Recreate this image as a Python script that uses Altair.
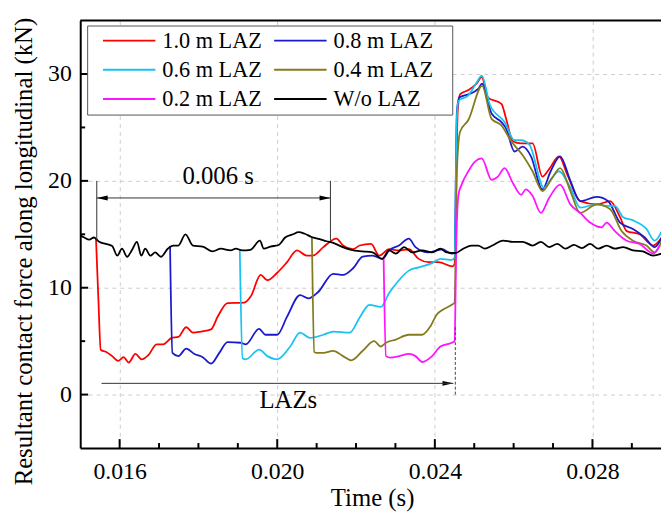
import altair as alt
import pandas as pd

series_names = ["1.0 m LAZ", "0.8 m LAZ", "0.6 m LAZ", "0.4 m LAZ", "0.2 m LAZ", "W/o LAZ"]
series_colors = ["#ff0000", "#1a1acc", "#19c3ef", "#847c1c", "#ff14ff", "#000000"]

t_red = [0.01540, 0.01546, 0.01552, 0.01565, 0.01581, 0.01596, 0.01610, 0.01623, 0.01640, 0.01656,
         0.01673, 0.01694, 0.01710, 0.01732, 0.01749, 0.01769, 0.01786, 0.01807, 0.01832, 0.01849,
         0.01874, 0.01916, 0.01933, 0.01958, 0.01975, 0.02000, 0.02025, 0.02050, 0.02075, 0.02090,
         0.02117, 0.02150, 0.02167, 0.02192, 0.02209, 0.02238, 0.02259, 0.02284, 0.02309, 0.02334,
         0.02359, 0.02384, 0.02409, 0.02445, 0.02450, 0.02458, 0.02464, 0.02485, 0.02506, 0.02519,
         0.02535, 0.02569, 0.02581, 0.02598, 0.02619, 0.02648, 0.02673, 0.02690, 0.02715, 0.02736,
         0.02769, 0.02811, 0.02845, 0.02870, 0.02887, 0.02920, 0.02954, 0.02976]
v_red = [14.6, 9.0, 4.2, 4.0, 3.6, 3.15, 3.5, 3.0, 3.8, 3.3,
         3.7, 4.7, 4.7, 5.3, 5.4, 6.3, 5.8, 5.9, 6.1, 7.3,
         8.55, 8.6, 9.2, 11.2, 10.7, 11.4, 12.4, 13.5, 13.0, 13.0,
         13.8, 14.6, 13.95, 13.6, 13.95, 14.1, 13.0, 13.6, 13.5, 13.6,
         12.7, 12.4, 12.4, 12.0, 12.2, 26.5, 28.1, 28.5, 29.1, 29.7,
         27.8, 27.2, 25.8, 23.7, 23.5, 23.5, 20.4, 21.1, 22.3, 20.6,
         18.1, 17.8, 18.1, 16.6, 15.3, 15.0, 13.95, 14.7]

t_blue = [0.01728, 0.01734, 0.01749, 0.01769, 0.01790, 0.01811, 0.01832, 0.01853, 0.01874, 0.01907,
          0.01920, 0.01954, 0.01970, 0.02000, 0.02025, 0.02058, 0.02079, 0.02104, 0.02142, 0.02167,
          0.02192, 0.02217, 0.02242, 0.02267, 0.02284, 0.02309, 0.02334, 0.02351, 0.02384, 0.02418,
          0.02443, 0.02450, 0.02456, 0.02462, 0.02485, 0.02510, 0.02520, 0.02544, 0.02569, 0.02581,
          0.02602, 0.02623, 0.02644, 0.02673, 0.02694, 0.02718, 0.02744, 0.02769, 0.02811, 0.02840,
          0.02870, 0.02903, 0.02933, 0.02958, 0.02976]
v_blue = [13.9, 3.9, 3.6, 4.3, 3.8, 3.5, 2.9, 3.9, 4.9, 4.85,
          4.7, 6.15, 5.6, 5.6, 7.3, 9.3, 9.0, 9.6, 11.3, 11.2,
          11.8, 12.9, 13.0, 12.7, 13.5, 13.95, 14.6, 13.8, 13.3, 13.6,
          13.2, 13.3, 26.5, 27.8, 28.1, 28.6, 29.1, 26.3, 25.5, 24.9,
          22.75, 23.2, 22.3, 19.2, 20.9, 22.3, 20.0, 18.1, 18.5, 18.1,
          16.1, 15.5, 14.7, 13.8, 14.7]

t_cyan = [0.01905, 0.01912, 0.01920, 0.01954, 0.01975, 0.02000, 0.02033, 0.02058, 0.02083, 0.02117,
          0.02142, 0.02184, 0.02209, 0.02234, 0.02263, 0.02284, 0.02309, 0.02334, 0.02359, 0.02393,
          0.02414, 0.02443, 0.02450, 0.02456, 0.02460, 0.02485, 0.02506, 0.02519, 0.02540, 0.02577,
          0.02602, 0.02619, 0.02640, 0.02677, 0.02694, 0.02715, 0.02744, 0.02769, 0.02811, 0.02836,
          0.02857, 0.02878, 0.02903, 0.02937, 0.02958, 0.02976]
v_cyan = [13.6, 3.4, 3.3, 4.2, 3.6, 3.3, 4.5, 5.8, 5.3, 5.6,
          5.9, 5.8, 7.2, 8.4, 8.2, 9.5, 10.7, 11.6, 11.9, 12.3,
          12.7, 12.6, 12.8, 26.0, 27.5, 28.0, 29.2, 29.85, 27.1, 25.5,
          23.8, 23.8, 23.4, 19.35, 20.1, 20.9, 19.35, 17.5, 17.8, 17.65,
          17.65, 16.6, 16.3, 15.5, 14.4, 15.3]

t_olive = [0.02088, 0.02094, 0.02100, 0.02117, 0.02142, 0.02167, 0.02188, 0.02217, 0.02246, 0.02263,
           0.02276, 0.02301, 0.02334, 0.02368, 0.02389, 0.02405, 0.02418, 0.02443, 0.02450, 0.02456,
           0.02464, 0.02485, 0.02520, 0.02544, 0.02569, 0.02594, 0.02623, 0.02648, 0.02673, 0.02698,
           0.02718, 0.02744, 0.02769, 0.02811, 0.02845, 0.02874, 0.02903, 0.02937, 0.02958, 0.02976]
v_olive = [14.75, 4.0, 3.9, 3.9, 4.1, 3.6, 3.2, 4.1, 5.0, 4.5,
           4.85, 5.15, 5.6, 5.6, 6.4, 7.5, 7.9, 8.4, 8.6, 21.0,
           24.6, 25.7, 28.9, 25.8, 25.2, 23.7, 22.4, 20.9, 19.05, 20.3,
           21.2, 19.05, 17.0, 17.8, 17.35, 15.3, 14.4, 13.95, 13.3, 14.4]

t_mag = [0.02270, 0.02276, 0.02287, 0.02310, 0.02334, 0.02351, 0.02368, 0.02393, 0.02414, 0.02443,
         0.02450, 0.02455, 0.02460, 0.02468, 0.02485, 0.02502, 0.02519, 0.02544, 0.02560, 0.02577,
         0.02598, 0.02619, 0.02631, 0.02648, 0.02669, 0.02690, 0.02718, 0.02744, 0.02769, 0.02794,
         0.02823, 0.02836, 0.02857, 0.02887, 0.02920, 0.02954, 0.02971]
v_mag = [12.8, 3.6, 3.45, 3.6, 3.8, 3.6, 3.05, 3.6, 4.5, 4.85,
         5.0, 15.0, 18.7, 19.65, 20.9, 21.8, 22.1, 20.1, 20.4, 21.2,
         19.8, 18.7, 19.2, 18.6, 17.0, 18.4, 19.65, 17.8, 17.0, 16.1,
         15.65, 16.1, 15.3, 14.4, 14.1, 13.2, 13.95]

t_black = [0.01500, 0.01510, 0.01523, 0.01535, 0.01548, 0.01565, 0.01581, 0.01594, 0.01606, 0.01619,
           0.01631, 0.01644, 0.01655, 0.01665, 0.01678, 0.01690, 0.01705, 0.01722, 0.01736, 0.01749,
           0.01767, 0.01786, 0.01811, 0.01836, 0.01857, 0.01882, 0.01895, 0.01911, 0.01932, 0.01956,
           0.01966, 0.01983, 0.02004, 0.02020, 0.02040, 0.02054, 0.02070, 0.02087, 0.02108, 0.02125,
           0.02142, 0.02163, 0.02188, 0.02217, 0.02242, 0.02266, 0.02284, 0.02301, 0.02322, 0.02343,
           0.02368, 0.02393, 0.02414, 0.02430, 0.02452, 0.02472, 0.02493, 0.02510, 0.02527, 0.02546,
           0.02573, 0.02598, 0.02623, 0.02648, 0.02669, 0.02690, 0.02711, 0.02732, 0.02753, 0.02773,
           0.02794, 0.02815, 0.02836, 0.02857, 0.02878, 0.02903, 0.02928, 0.02954, 0.02976]
v_black = [14.9, 14.7, 14.5, 14.7, 14.3, 14.1, 13.9, 13.0, 13.65, 12.9,
           13.5, 14.3, 13.0, 13.65, 13.0, 13.3, 12.9, 13.65, 13.95, 13.95,
           15.0, 13.95, 13.85, 13.4, 13.65, 13.5, 13.65, 13.5, 13.55, 14.4,
           13.65, 13.85, 14.0, 14.7, 15.0, 15.2, 15.05, 14.75, 14.55, 14.35,
           14.2, 13.85, 13.55, 13.4, 13.3, 12.7, 13.5, 13.2, 13.8, 13.3,
           13.5, 13.3, 13.65, 13.3, 13.25, 13.65, 13.95, 13.95, 13.65, 13.95,
           14.4, 14.3, 14.3, 13.95, 14.3, 13.8, 14.1, 13.65, 14.0, 13.7,
           14.1, 13.65, 13.95, 13.65, 13.8, 13.5, 13.4, 13.0, 13.2]

x_major = [0.016, 0.020, 0.024, 0.028]
x_minor = [0.017, 0.018, 0.019, 0.021, 0.022, 0.023, 0.025, 0.026, 0.027, 0.029]
y_major = [0, 10, 20, 30]
y_minor = [5, 15, 25]

# annotations
dim_x = [0.01542, 0.02135]
dim_y0, dim_y1, dim_arrow_y = 14.4, 20.0, 18.4
dim_label = "0.006 s"
dim_label_pos = (0.01850, 19.7)
laz_x0, laz_x1, laz_y = 0.01554, 0.02447, 1.05
laz_mark_x, laz_mark_y0, laz_mark_y1 = 0.02452, 0.0, 6.5
laz_label = "LAZs"
laz_label_pos = (0.02028, -1.25)

W, H = 587, 432
FONT = "Liberation Serif"
xdom = [0.015, 0.02974]
ydom = [-5, 35]

rows = []
for name, ts, vs in [(series_names[0], t_red, v_red), (series_names[1], t_blue, v_blue),
                     (series_names[2], t_cyan, v_cyan), (series_names[3], t_olive, v_olive),
                     (series_names[4], t_mag, v_mag), (series_names[5], t_black, v_black)]:
    for i, (t, v) in enumerate(zip(ts, vs)):
        rows.append({"t": t, "v": v, "s": name, "i": i})
df = pd.DataFrame(rows)

xs = alt.Scale(domain=xdom, nice=False, zero=False)
ys = alt.Scale(domain=ydom, nice=False, zero=False)

x_axis = alt.Axis(
    values=x_major, format=".3f", title="Time (s)", ticks=False,
    labelFont=FONT, labelFontSize=24, labelColor="black", labelPadding=12,
    titleFont=FONT, titleFontSize=25, titleFontWeight="normal", titleColor="black",
    titleX=295, titleY=58, titleBaseline="alphabetic",
    domainColor="black", domainWidth=2,
    grid=True, gridDash=[4, 4], gridColor="#cccccc", gridWidth=1)
y_axis = alt.Axis(
    values=y_major, title="Resultant contact force along longitudinal (kN)", ticks=False,
    labelFont=FONT, labelFontSize=24, labelColor="black", labelPadding=9,
    titleFont=FONT, titleFontSize=25, titleFontWeight="normal", titleColor="black",
    titleX=-57, titleY=233, titleBaseline="middle", titleAlign="center",
    domainColor="black", domainWidth=2,
    grid=True, gridDash=[4, 4], gridColor="#cccccc", gridWidth=1)


def X(f):
    return alt.X(f, scale=xs, axis=x_axis)


def Y(f):
    return alt.Y(f, scale=ys, axis=y_axis)


lines = alt.Chart(df).mark_line(clip=True, strokeWidth=1.8, interpolate="monotone").encode(
    x=X("t:Q"),
    y=Y("v:Q"),
    color=alt.Color("s:N", scale=alt.Scale(domain=series_names, range=series_colors),
                    sort=series_names,
                    legend=alt.Legend(orient="none", legendX=7, legendY=5, columns=2, direction="horizontal",
                                      title=None, clipHeight=22,
                                      symbolType="stroke", symbolSize=2809, symbolStrokeWidth=2,
                                      symbolOffset=11, labelOffset=6,
                                      labelExpr="datum.label + (datum.index % 2 == 1 ? '\u2004\u2004\u200b' : '')",
                                      labelFont=FONT, labelFontSize=22.5, labelColor="black",
                                      labelLimit=300,
                                      strokeColor="#555555", fillColor="white", padding=4,
                                      rowPadding=6.6, columnPadding=0)),
    detail="s:N",
    order="i:Q",
)

xt_major = alt.Chart(pd.DataFrame({"x": x_major})).mark_rule(color="black", strokeWidth=2).encode(
    x=X("x:Q"), y=alt.value(H), y2=alt.value(H - 9))
xt_minor = alt.Chart(pd.DataFrame({"x": x_minor})).mark_rule(color="black", strokeWidth=2).encode(
    x=X("x:Q"), y=alt.value(H), y2=alt.value(H - 5))
yt_major = alt.Chart(pd.DataFrame({"y": y_major})).mark_rule(color="black", strokeWidth=2).encode(
    y=Y("y:Q"), x=alt.value(0), x2=alt.value(8))
yt_minor = alt.Chart(pd.DataFrame({"y": y_minor})).mark_rule(color="black", strokeWidth=2).encode(
    y=Y("y:Q"), x=alt.value(0), x2=alt.value(5))
top_frame = alt.Chart(pd.DataFrame({"a": [0]})).mark_rule(color="black", strokeWidth=2).encode(
    x=alt.value(0), x2=alt.value(W), y=alt.value(0))

dim_vert = alt.Chart(pd.DataFrame({"x": dim_x, "y0": [dim_y0] * 2, "y1": [dim_y1] * 2})).mark_rule(
    color="#333333", strokeWidth=1).encode(x=X("x:Q"), y=Y("y0:Q"), y2="y1:Q")
dim_horiz = alt.Chart(pd.DataFrame({"x0": [dim_x[0]], "x1": [dim_x[1]], "y": [dim_arrow_y]})).mark_rule(
    color="#333333", strokeWidth=1).encode(x=X("x0:Q"), x2="x1:Q", y=Y("y:Q"))
head_left = alt.Chart(pd.DataFrame({"x": [dim_x[0]], "y": [dim_arrow_y]})).mark_point(
    shape="M0,0L2,-0.45L2,0.45Z", filled=True, size=121, color="black", opacity=1).encode(
    x=X("x:Q"), y=Y("y:Q"))
head_right = alt.Chart(pd.DataFrame({"x": [dim_x[1], laz_x1], "y": [dim_arrow_y, laz_y]})).mark_point(
    shape="M0,0L-2,-0.45L-2,0.45Z", filled=True, size=121, color="black", opacity=1).encode(
    x=X("x:Q"), y=Y("y:Q"))
laz_line = alt.Chart(pd.DataFrame({"x0": [laz_x0], "x1": [laz_x1], "y": [laz_y]})).mark_rule(
    color="#333333", strokeWidth=1).encode(x=X("x0:Q"), x2="x1:Q", y=Y("y:Q"))
laz_mark = alt.Chart(pd.DataFrame({"x": [laz_mark_x], "y0": [laz_mark_y0], "y1": [laz_mark_y1]})).mark_rule(
    color="#444444", strokeWidth=1, strokeDash=[3, 2]).encode(x=X("x:Q"), y=Y("y0:Q"), y2="y1:Q")
texts = alt.Chart(pd.DataFrame({"x": [dim_label_pos[0], laz_label_pos[0]],
                                "y": [dim_label_pos[1], laz_label_pos[1]],
                                "label": [dim_label, laz_label]})).mark_text(
    font=FONT, fontSize=25, baseline="alphabetic", align="center", color="black").encode(
    x=X("x:Q"), y=Y("y:Q"), text="label:N")

chart = alt.layer(
    lines, dim_vert, dim_horiz, head_left, head_right, laz_line, laz_mark, texts,
    xt_major, xt_minor, yt_major, yt_minor, top_frame
).properties(
    width=W, height=H,
    padding={"left": 73, "top": 10, "right": 0, "bottom": 66},
    autosize=alt.AutoSizeParams(type="none"),
    background="white",
).configure_view(stroke=None)

chart.save("out.html", embed_options={"renderer": "svg", "actions": False})
